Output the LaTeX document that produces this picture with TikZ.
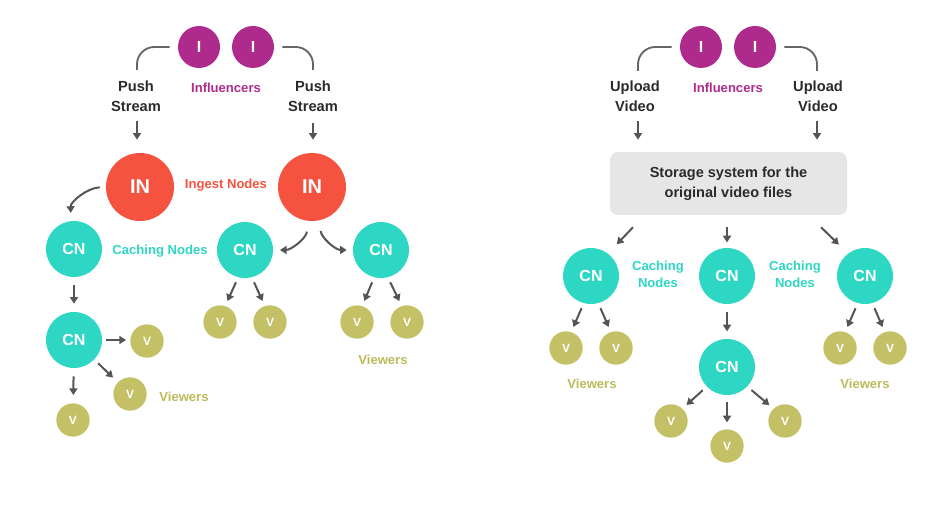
\documentclass[tikz,border=0pt]{standalone}
\usepackage{fontspec}
\setmainfont{Liberation Sans}
\usetikzlibrary{arrows.meta}
\definecolor{infc}{HTML}{AE2A8C}
\definecolor{ingc}{HTML}{F5533F}
\definecolor{cnc}{HTML}{2ED6C4}
\definecolor{vwc}{HTML}{C3C065}
\definecolor{vwt}{HTML}{BDBA5C}
\definecolor{arc}{HTML}{555555}
\definecolor{txc}{HTML}{2B2B2B}
\definecolor{boxc}{HTML}{E6E6E6}
\tikzset{
  infl/.style={circle,fill=infc,minimum size=31.5pt,inner sep=0pt,text=white,font=\fontsize{12}{12}\selectfont\bfseries},
  ingn/.style={circle,fill=ingc,minimum size=51pt,inner sep=0pt,text=white,font=\fontsize{15}{15}\selectfont\bfseries},
  cachen/.style={circle,fill=cnc,minimum size=42pt,inner sep=0pt,text=white,font=\fontsize{12}{12}\selectfont\bfseries},
  viewn/.style={circle,fill=vwc,minimum size=25pt,inner sep=0pt,text=white,font=\fontsize{9}{9}\selectfont\bfseries},
  actlbl/.style={align=center,text=txc,font=\fontsize{11}{15}\selectfont\bfseries},
  grplbl/.style={align=center,font=\fontsize{9.8}{12.75}\selectfont\bfseries},
  arr/.style={draw=arc,line width=1.5pt,-{Triangle[length=5pt,width=6pt]}},
  feed/.style={draw=arc!90,line width=1.4pt,rounded corners=13pt},
  sh/.style={shorten <=#1,shorten >=#1},
}
\begin{document}
\begin{tikzpicture}[x=0.75pt,y=-0.75pt]
\useasboundingbox (0,0) rectangle (945,505);

% ---------------- LEFT ----------------
\node[infl] (i1) at (199,47) {I};
\node[infl] (i2) at (253,47) {I};
\node[grplbl,text=infc] (inflL) at (226,88) {Influencers};
\node[actlbl] (ps1) at (136,96) {Push\\Stream};
\node[actlbl] (ps2) at (313,96) {Push\\Stream};
\draw[feed] ([xshift=-6pt]i1.west) -- (137,47) -- ([shift={(1,-6)}]ps1.north);
\draw[feed] ([xshift=6pt]i2.east) -- (313,47) -- ([yshift=4.5pt]ps2.north);

\node[ingn] (in1) at (140,187) {IN};
\node[ingn] (in2) at (312,187) {IN};
\node[grplbl,text=ingc] (ingl) at (226,185) {Ingest Nodes};
\draw[arr] ([shift={(1,5)}]ps1.south) -- ([shift={(-3,-13)}]in1.north);
\draw[arr] ([yshift=-5pt]ps2.south) -- ([shift={(1,-13)}]in2.north);

\node[cachen] (cn1) at (74,249) {CN};
\node[cachen] (cn2) at (245,250) {CN};
\node[cachen] (cn3) at (381,250) {CN};
\node[grplbl,text=cnc] (cachl) at (160,251) {Caching Nodes};

\draw[arr,shorten <=4.5pt,shorten >=6pt] (in1.west) to[out=183,in=92] (cn1.96);
\draw[arr,shorten <=8pt,shorten >=5pt] (in2.263) to[out=-95,in=0] (cn2.east);
\draw[arr,shorten <=8pt,shorten >=4.5pt] (in2.-77) to[out=-85,in=180] (cn3.west);

\node[cachen] (cn4) at (74,340) {CN};
\draw[arr,sh=6pt] (cn1) -- (cn4);
\node[viewn] (v1) at (147,341) {V};
\node[viewn] (v2) at (130,394) {V};
\node[viewn] (v3) at (73,420) {V};
\draw[arr,sh=3pt] (cn4.east) -- (cn4.east -| v1.west);
\draw[arr,shorten <=4pt,shorten >=5pt] (cn4) -- (v2);
\draw[arr,sh=6pt] (cn4) -- (v3);
\node[grplbl,text=vwt] (vwl1) at (184,397) {Viewers};

\node[viewn] (v4) at (220,322) {V};
\node[viewn] (v5) at (270,322) {V};
\node[viewn] (v6) at (357,322) {V};
\node[viewn] (v7) at (407,322) {V};
\draw[arr,sh=4pt] (cn2.256) -- (v4.72);
\draw[arr,sh=4pt] (cn2.284) -- (v5.108);
\draw[arr,sh=4pt] (cn3.256) -- (v6.72);
\draw[arr,sh=4pt] (cn3.284) -- (v7.108);
\node[grplbl,text=vwt] (vwl2) at (383,360) {Viewers};

% ---------------- RIGHT ----------------
\node[infl] (i3) at (701,47) {I};
\node[infl] (i4) at (755,47) {I};
\node[grplbl,text=infc] (inflR) at (728,88) {Influencers};
\node[actlbl] (uv1) at (635,96) {Upload\\Video};
\node[actlbl] (uv2) at (818,96) {Upload\\Video};
\draw[feed] ([xshift=-6pt]i3.west) -- (638,47) -- ([shift={(3,-5)}]uv1.north);
\draw[feed] ([xshift=6pt]i4.east) -- (817,47) -- ([shift={(-1,-5)}]uv2.north);

\node[draw=none,fill=boxc,rounded corners=6pt,minimum width=177.75pt,minimum height=47.25pt,
      align=center,text=txc,font=\fontsize{10.9}{15}\selectfont\bfseries] (box) at (728.5,183.5)
      {Storage system for the\\original video files};
\draw[arr] ([shift={(3,5)}]uv1.south) -- ([shift={(3,-12)}]uv1.south |- box.north);
\draw[arr] ([shift={(-1,5)}]uv2.south) -- ([shift={(-1,-12)}]uv2.south |- box.north);

\node[cachen] (cn5) at (591,276) {CN};
\node[cachen] (cn6) at (727,276) {CN};
\node[cachen] (cn7) at (865,276) {CN};
\node[grplbl,text=cnc] (cachl2) at (658,274) {Caching\\Nodes};
\node[grplbl,text=cnc] (cachl3) at (795,274) {Caching\\Nodes};

\draw[arr,shorten >=9.5pt] ([shift={(-95.5,12)}]box.south) -- (cn5.53);
\draw[arr,shorten >=4pt] ([shift={(-1.5,12)}]box.south) -- (cn6.north);
\draw[arr,shorten >=9.5pt] ([shift={(92.5,12)}]box.south) -- (cn7.127);

\node[viewn] (v8) at (566,348) {V};
\node[viewn] (v9) at (616,348) {V};
\node[viewn] (v10) at (840,348) {V};
\node[viewn] (v11) at (890,348) {V};
\draw[arr,sh=4pt] (cn5.255) -- (v8.72);
\draw[arr,sh=4pt] (cn5.285) -- (v9.108);
\draw[arr,sh=4pt] (cn7.255) -- (v10.72);
\draw[arr,sh=4pt] (cn7.285) -- (v11.108);
\node[grplbl,text=vwt] (vwl3) at (592,384) {Viewers};
\node[grplbl,text=vwt] (vwl4) at (865,384) {Viewers};

\node[cachen] (cn8) at (727,367) {CN};
\draw[arr,sh=5.5pt] (cn6) -- (cn8);
\node[viewn] (v12) at (671,421) {V};
\node[viewn] (v13) at (727,446) {V};
\node[viewn] (v14) at (785,421) {V};
\draw[arr,sh=4pt] (cn8.224) -- (v12.47);
\draw[arr,sh=5pt] (cn8) -- (v13);
\draw[arr,sh=4pt] (cn8.316) -- (v14.133);
\end{tikzpicture}
\end{document}
